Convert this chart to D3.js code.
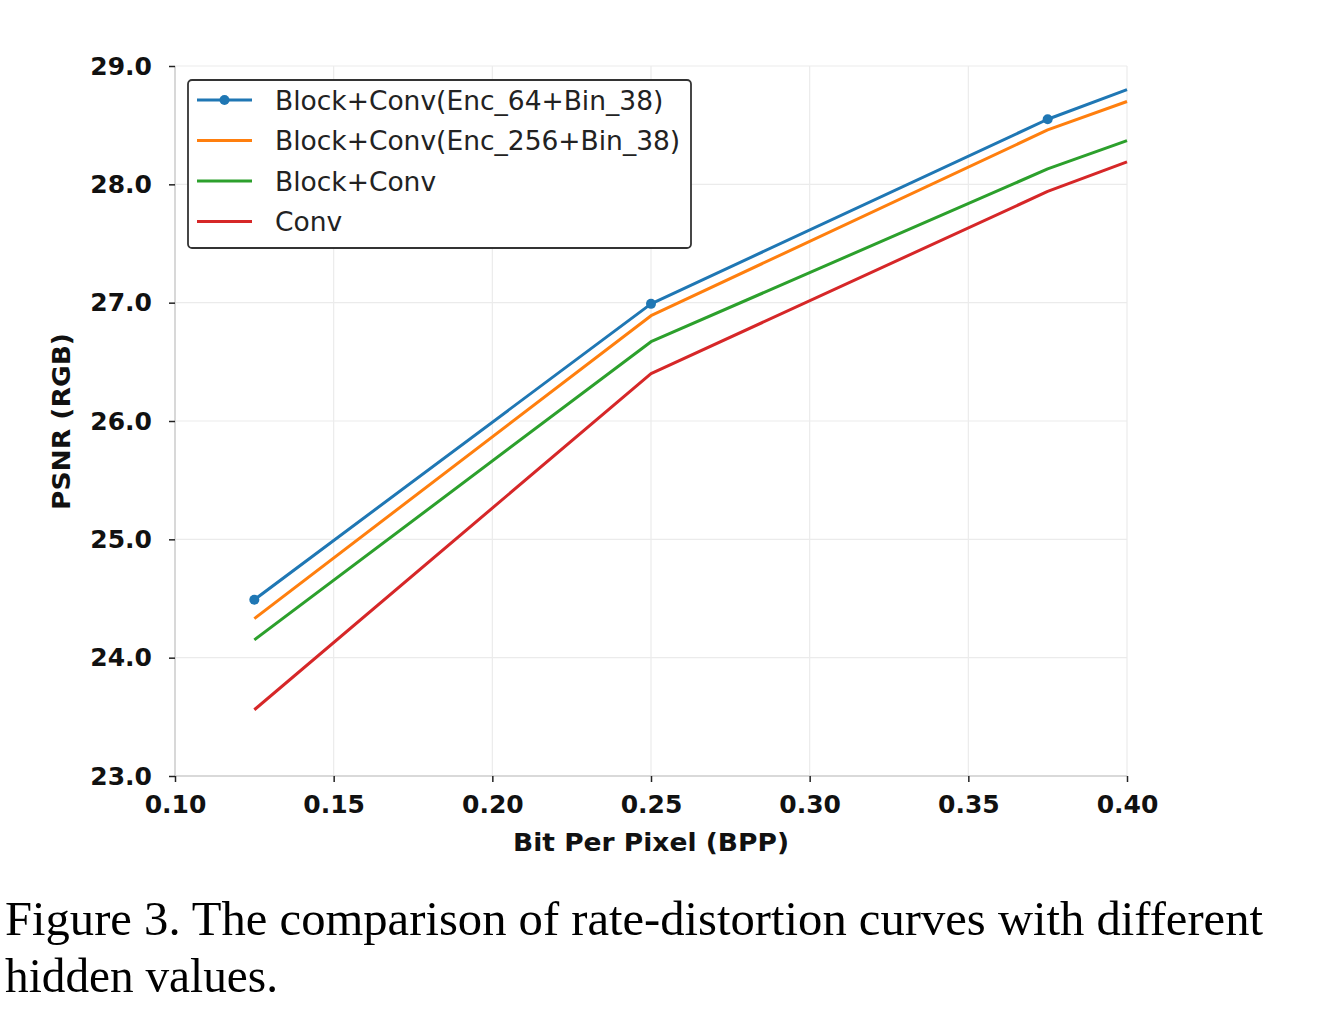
<!DOCTYPE html>
<html><head><meta charset="utf-8">
<script src="https://cdn.jsdelivr.net/npm/d3@7"></script>
<style>body{margin:0;background:#fff;}svg{display:block;}</style>
</head><body>
<svg id="c" width="1317" height="1025"></svg>
<script>
const bpp = [0.125, 0.25, 0.375, 0.40];
const seriesNames = ["Block+Conv(Enc_64+Bin_38)", "Block+Conv(Enc_256+Bin_38)", "Block+Conv", "Conv"];
const enc64 = [24.49, 26.99, 28.55, 28.80];
const enc256 = [24.33, 26.89, 28.46, 28.70];
const blockConv = [24.15, 26.67, 28.13, 28.37];
const conv = [23.56, 26.40, 27.94, 28.19];
const colors = ["#1f77b4", "#ff7f0e", "#2ca02c", "#d62728"];
const markerIdx = [0, 1, 2];
const xTicks = [0.10, 0.15, 0.20, 0.25, 0.30, 0.35, 0.40];
const yTicks = [23, 24, 25, 26, 27, 28, 29];
const captionLines = ["Figure 3. The comparison of rate-distortion curves with different", "hidden values."];

const series = [enc64, enc256, blockConv, conv];
const svg = d3.select("#c");
const L = 175, R = 1127, T = 66, B = 776;
const x = d3.scaleLinear().domain([0.10, 0.40]).range([L, R]);
const y = d3.scaleLinear().domain([23, 29]).range([B, T]);

// grid
svg.append("g").selectAll("line").data(xTicks).join("line")
  .attr("x1", d => x(d)).attr("x2", d => x(d)).attr("y1", T).attr("y2", B)
  .attr("stroke", "#ebebeb").attr("stroke-width", 1.2);
svg.append("g").selectAll("line").data(yTicks).join("line")
  .attr("y1", d => y(d)).attr("y2", d => y(d)).attr("x1", L).attr("x2", R)
  .attr("stroke", "#ebebeb").attr("stroke-width", 1.2);

// axes
const xAxis = svg.append("g").attr("transform", `translate(0,${B})`)
  .call(d3.axisBottom(x).tickValues(xTicks).tickFormat(d3.format(".2f")).tickSize(6).tickPadding(13));
const yAxis = svg.append("g").attr("transform", `translate(${L},0)`)
  .call(d3.axisLeft(y).tickValues(yTicks).tickFormat(d3.format(".1f")).tickSize(6).tickPadding(17));
[xAxis, yAxis].forEach(a => {
  a.select(".domain").attr("stroke", "#cfcfcf").attr("stroke-width", 1.5);
  a.selectAll(".tick line").attr("stroke", "#222").attr("stroke-width", 1.5);
  a.selectAll(".tick text").attr("fill", "#111")
    .style("font-family", "DejaVu Sans").style("font-weight", "bold").style("font-size", "25px");
});
xAxis.select(".domain").attr("d", `M${L},0H${R}`);
yAxis.select(".domain").attr("d", `M0,${B}V${T}`);

// axis labels
svg.append("text").attr("x", 651).attr("y", 851).attr("text-anchor", "middle")
  .attr("textLength", 276).attr("lengthAdjust", "spacingAndGlyphs")
  .style("font-family", "DejaVu Sans").style("font-weight", "bold").style("font-size", "25px")
  .attr("fill", "#111").text("Bit Per Pixel (BPP)");
svg.append("text").attr("transform", `translate(70,421.5) rotate(-90)`).attr("text-anchor", "middle")
  .attr("textLength", 177).attr("lengthAdjust", "spacingAndGlyphs")
  .style("font-family", "DejaVu Sans").style("font-weight", "bold").style("font-size", "24px")
  .attr("fill", "#111").text("PSNR (RGB)");

// lines
const line = d3.line().x((d, i) => x(bpp[i])).y(d => y(d));
series.forEach((s, k) => {
  svg.append("path").attr("d", line(s)).attr("fill", "none")
    .attr("stroke", colors[k]).attr("stroke-width", 3).attr("stroke-linejoin", "round");
});
svg.append("g").selectAll("circle").data(markerIdx).join("circle")
  .attr("cx", i => x(bpp[i])).attr("cy", i => y(enc64[i])).attr("r", 5).attr("fill", colors[0]);

// legend
const lg = svg.append("g");
lg.append("rect").attr("x", 188).attr("y", 80).attr("width", 503).attr("height", 168)
  .attr("rx", 4).attr("fill", "#fff").attr("stroke", "#333").attr("stroke-width", 1.8);
seriesNames.forEach((n, k) => {
  const yy = 100 + k * 40.5;
  lg.append("line").attr("x1", 197).attr("x2", 252).attr("y1", yy).attr("y2", yy)
    .attr("stroke", colors[k]).attr("stroke-width", 3);
  if (k === 0) lg.append("circle").attr("cx", 224.5).attr("cy", yy).attr("r", 5).attr("fill", colors[0]);
  lg.append("text").attr("x", 275).attr("y", yy).attr("dy", "0.36em")
    .style("font-family", "DejaVu Sans").style("font-size", "26.5px").attr("fill", "#222").text(n);
});

// caption
svg.append("text").attr("x", 5).attr("y", 935).attr("textLength", 1258).attr("lengthAdjust", "spacingAndGlyphs")
  .style("font-family", "Liberation Serif").style("font-size", "49px").attr("fill", "#000").text(captionLines[0]);
svg.append("text").attr("x", 5).attr("y", 992).attr("textLength", 273).attr("lengthAdjust", "spacingAndGlyphs")
  .style("font-family", "Liberation Serif").style("font-size", "49px").attr("fill", "#000").text(captionLines[1]);
</script>
</body></html>
